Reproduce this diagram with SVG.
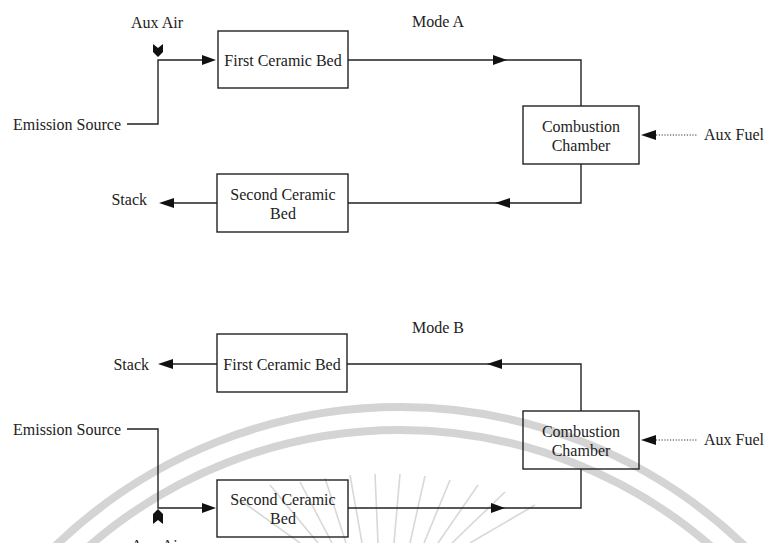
<svg xmlns="http://www.w3.org/2000/svg" width="764" height="543" viewBox="0 0 764 543">
<style>
text{font-family:"Liberation Serif","Times New Roman",serif;font-size:16px;fill:#222}
.c{text-anchor:middle}
.e{text-anchor:end}
.box{fill:none;stroke:#222;stroke-width:1.4}
.ln{fill:none;stroke:#222;stroke-width:1.4}
.dot{fill:none;stroke:#333;stroke-width:1;stroke-dasharray:1.2 1.6}
.ah{fill:#111}
.wm{fill:none;stroke:#d4d4d4;stroke-width:8}
.wr{stroke:#d8d8d8;stroke-width:1.6}
</style>
<rect width="764" height="543" fill="#fff"/>
<g id="watermark">
<circle class="wm" cx="400" cy="904" r="497"/>
<circle class="wm" cx="400" cy="904" r="474"/>
<g class="wr">
<line x1="318" y1="543" x2="270" y2="485"/>
<line x1="332" y1="543" x2="300" y2="482"/>
<line x1="346" y1="543" x2="325" y2="478"/>
<line x1="362" y1="543" x2="350" y2="475"/>
<line x1="378" y1="543" x2="375" y2="474"/>
<line x1="394" y1="543" x2="400" y2="474"/>
<line x1="410" y1="543" x2="425" y2="476"/>
<line x1="424" y1="543" x2="450" y2="480"/>
<line x1="438" y1="543" x2="478" y2="485"/>
<line x1="452" y1="543" x2="505" y2="492"/>
<line x1="300" y1="543" x2="240" y2="500"/>
<line x1="470" y1="543" x2="535" y2="505"/>
</g>
</g>
<g id="connectors">
<polyline class="ln" points="127,124 158,124 158,60 206,60"/>
<polygon class="ah" points="216,60 202,55 202,65"/>
<polygon class="ah" points="153,44 158,48 163,44 163,52 158,57 153,52"/>
<polyline class="ln" points="348,60 581,60 581,106"/>
<polygon class="ah" points="507,60 493,55 493,65"/>
<line class="dot" x1="656" y1="135" x2="698" y2="135"/>
<polygon class="ah" points="641,135 656,130 656,140"/>
<polyline class="ln" points="581,164 581,203 348,203"/>
<polygon class="ah" points="495,203 510,198 510,208"/>
<line class="ln" x1="217" y1="203" x2="170" y2="203"/>
<polygon class="ah" points="159,203 174,198 174,208"/>

<line class="ln" x1="217" y1="364" x2="168" y2="364"/>
<polygon class="ah" points="158,364 173,359 173,369"/>
<polyline class="ln" points="347,364 581,364 581,411"/>
<polygon class="ah" points="487,364 502,359 502,369"/>
<line class="dot" x1="656" y1="440" x2="698" y2="440"/>
<polygon class="ah" points="641,440 656,435 656,445"/>
<polyline class="ln" points="581,469 581,508 348,508"/>
<polygon class="ah" points="505,508 491,503 491,513"/>
<polyline class="ln" points="127,429 158,429 158,508 206,508"/>
<polygon class="ah" points="216,508 202,503 202,513"/>
<polygon class="ah" points="153,524 158,520 163,524 163,514 158,509 153,514"/>
</g>
<g id="labels">
<text class="c" x="157" y="28">Aux Air</text>
<text class="c" x="438" y="27">Mode A</text>
<text class="e" x="121" y="130">Emission Source</text>
<text class="e" x="147" y="205">Stack</text>
<text x="704" y="140">Aux Fuel</text>
<text class="c" x="438" y="333">Mode B</text>
<text class="e" x="149" y="370">Stack</text>
<text class="e" x="121" y="435">Emission Source</text>
<text x="704" y="445">Aux Fuel</text>
<text class="c" x="157" y="551">Aux Air</text>
</g>
<g id="first-bed-a">
<rect class="box" x="218" y="31" width="130" height="57"/>
<text class="c" x="283" y="66">First Ceramic Bed</text>
</g>
<g id="combustion-a">
<rect class="box" x="523" y="106" width="116" height="58"/>
<text class="c" x="581" y="132">Combustion</text>
<text class="c" x="581" y="151">Chamber</text>
</g>
<g id="second-bed-a">
<rect class="box" x="217" y="174" width="131" height="58"/>
<text class="c" x="283" y="200">Second Ceramic</text>
<text class="c" x="283" y="219">Bed</text>
</g>
<g id="first-bed-b">
<rect class="box" x="217" y="334" width="130" height="58"/>
<text class="c" x="282" y="370">First Ceramic Bed</text>
</g>
<g id="combustion-b">
<rect class="box" x="523" y="411" width="116" height="58"/>
<text class="c" x="581" y="437">Combustion</text>
<text class="c" x="581" y="456">Chamber</text>
</g>
<g id="second-bed-b">
<rect class="box" x="217" y="480" width="131" height="57"/>
<text class="c" x="283" y="505">Second Ceramic</text>
<text class="c" x="283" y="524">Bed</text>
</g>
</svg>
